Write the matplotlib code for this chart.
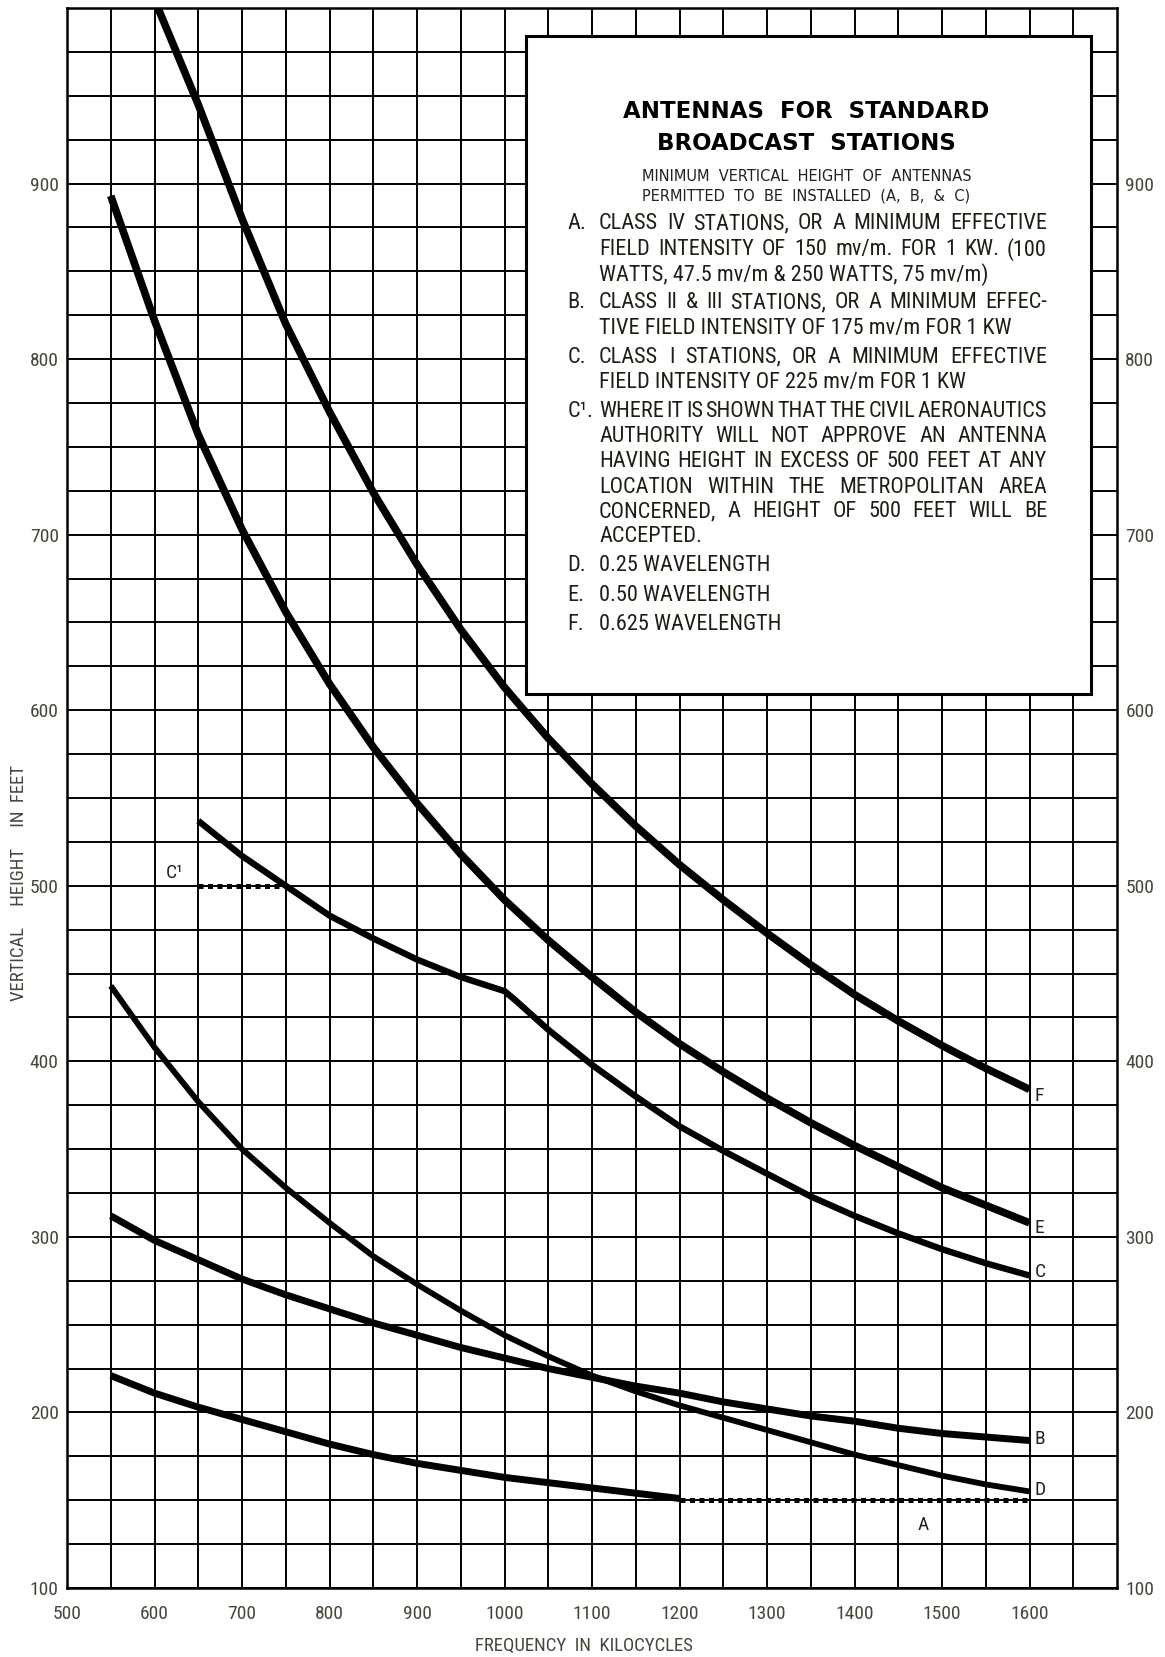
import numpy as np
import matplotlib.pyplot as plt
from matplotlib.patches import Rectangle

# values (frequency in kc, height in feet)
freq_F = [604, 650, 700, 750, 800, 850, 900, 950, 1000, 1050, 1100, 1150, 1200, 1250,
          1300, 1350, 1400, 1450, 1500, 1550, 1600]
height_F = [1000, 945, 880, 820, 770, 724, 683, 646, 613, 584, 558, 534, 512, 492,
            473, 455, 438, 423, 409, 396, 384]

freq_E = [550, 600, 650, 700, 750, 800, 850, 900, 950, 1000, 1050, 1100, 1150, 1200,
          1250, 1300, 1350, 1400, 1450, 1500, 1550, 1600]
height_E = [893, 822, 757, 703, 656, 615, 579, 547, 518, 492, 469, 448, 428, 410,
            394, 379, 365, 352, 340, 328, 318, 308]

freq_C = [650, 700, 750, 800, 850, 900, 950, 1000, 1012, 1050, 1100, 1150, 1200, 1250,
          1300, 1350, 1400, 1450, 1500, 1550, 1600]
height_C = [537, 517, 500, 483, 470, 458, 448, 440, 435, 418, 398, 380, 363, 349,
            336, 323, 312, 302, 293, 285, 278]

freq_D = [550, 600, 650, 700, 750, 800, 850, 900, 950, 1000, 1050, 1100, 1150, 1200,
          1250, 1300, 1350, 1400, 1450, 1500, 1550, 1600]
height_D = [443, 408, 377, 350, 328, 308, 289, 273, 258, 244, 232, 221, 212, 204,
            197, 190, 183, 176, 170, 164, 159, 155]

freq_B = [550, 600, 650, 700, 750, 800, 850, 900, 950, 1000, 1050, 1100, 1150, 1200,
          1250, 1300, 1350, 1400, 1450, 1500, 1550, 1600]
height_B = [312, 298, 287, 276, 267, 259, 251, 244, 237, 231, 225, 220, 215, 211,
            206, 202, 198, 195, 191, 188, 186, 184]

freq_A = [550, 600, 650, 700, 750, 800, 850, 900, 950, 1000, 1050, 1100, 1150, 1200]
height_A = [221, 211, 203, 196, 189, 182, 176, 171, 167, 163, 160, 157, 154, 151]

# dotted limits
freq_A_lim = [1200, 1600]
height_A_lim = [150, 150]
freq_C1 = [650, 750]
height_C1 = [500, 500]

x_ticks = list(range(500, 1601, 100))
y_ticks = list(range(100, 901, 100))

narrow = ['Roboto Condensed', 'DejaVu Sans']
tick_col = '#46463a'

fig = plt.figure(figsize=(11.65, 16.57), dpi=100)
ax = fig.add_axes([67/1165, 1-1588/1657, 1050/1165, 1580/1657])
ax.set_xlim(500, 1700)
ax.set_ylim(100, 1000)

ax.set_xticks(x_ticks)
ax.set_xticks(range(550, 1700, 50), minor=True)
ax.set_yticks(y_ticks)
ax.set_yticks(range(125, 1000, 25), minor=True)
ax.grid(which='both', color='black', lw=1.4, zorder=1)
ax.tick_params(which='both', length=0)
ax.tick_params(axis='x', pad=12)
ax.tick_params(axis='y', pad=6, labelright=True)
for lab in ax.get_xticklabels() + ax.get_yticklabels():
    lab.set_family(narrow)
    lab.set_fontsize(14)
    lab.set_color(tick_col)
for s in ax.spines.values():
    s.set_linewidth(1.8)

ax.plot(freq_F, height_F, color='black', lw=5.5, solid_capstyle='butt', zorder=4)
ax.plot(freq_E, height_E, color='black', lw=5.5, solid_capstyle='butt', zorder=4)
ax.plot(freq_C, height_C, color='black', lw=4.6, solid_capstyle='butt', zorder=4)
ax.plot(freq_D, height_D, color='black', lw=4.2, solid_capstyle='butt', zorder=4)
ax.plot(freq_B, height_B, color='black', lw=5.0, solid_capstyle='butt', zorder=4)
ax.plot(freq_A, height_A, color='black', lw=5.0, solid_capstyle='butt', zorder=4)
ax.plot(freq_A_lim, height_A_lim, color='black', lw=3.6, ls=(0, (1, 0.9)), zorder=4)
ax.plot(freq_C1, height_C1, color='black', lw=3.6, ls=(0, (1, 0.9)), zorder=4)

lab_kw = dict(family=narrow, fontsize=14, color='#222222', va='center', zorder=5)
ax.text(1606, 380, 'F', **lab_kw)
ax.text(1606, 305, 'E', **lab_kw)
ax.text(1606, 280, 'C', **lab_kw)
ax.text(1606, 185, 'B', **lab_kw)
ax.text(1606, 156, 'D', **lab_kw)
ax.text(1478, 136, 'A', ha='center', **lab_kw)
ax.text(623, 507, 'C\u00b9', ha='center', **lab_kw)

# legend box
ax.add_patch(Rectangle((1024, 609), 646, 375, facecolor='white', edgecolor='black',
                       lw=2.2, zorder=5))
ax.text(1345, 941, 'ANTENNAS  FOR  STANDARD', ha='center', va='center',
        fontsize=16.5, fontweight='bold', family='DejaVu Sans', zorder=6)
ax.text(1345, 923, 'BROADCAST  STATIONS', ha='center', va='center',
        fontsize=16.5, fontweight='bold', family='DejaVu Sans', zorder=6)
ax.text(1345, 904, 'MINIMUM  VERTICAL  HEIGHT  OF  ANTENNAS', ha='center', va='center',
        fontsize=10.5, family='DejaVu Sans', color='#222222', zorder=6)
ax.text(1345, 893, 'PERMITTED  TO  BE  INSTALLED  (A,  B,  &  C)', ha='center', va='center',
        fontsize=10.5, family='DejaVu Sans', color='#222222', zorder=6)

item_kw = dict(family=narrow, fontsize=16, color='#1e1e14', va='center', zorder=6)
renderer = fig.canvas.get_renderer()
inv = ax.transData.inverted()
x_mark, x0, x1 = 1072, 1108, 1620


def put_line(text, y, justify):
    if not justify:
        ax.text(x0, y, text, **item_kw)
        return
    words = text.split()
    objs = [ax.text(x0, y, w, **item_kw) for w in words]
    widths = []
    for t in objs:
        bb = t.get_window_extent(renderer)
        widths.append(inv.transform((bb.x1, bb.y0))[0] - inv.transform((bb.x0, bb.y0))[0])
    gap = (x1 - x0 - sum(widths)) / (len(words) - 1)
    x = x0
    for t, w in zip(objs, widths):
        t.set_x(x)
        x += w + gap


items = [
    ('A.', [('CLASS IV STATIONS, OR A MINIMUM EFFECTIVE', True),
            ('FIELD INTENSITY OF 150 mv/m. FOR 1 KW. (100', True),
            ('WATTS, 47.5 mv/m & 250 WATTS, 75 mv/m)', False)]),
    ('B.', [('CLASS II & III STATIONS, OR A MINIMUM EFFEC-', True),
            ('TIVE FIELD INTENSITY OF 175 mv/m FOR 1 KW', False)]),
    ('C.', [('CLASS I STATIONS, OR A MINIMUM EFFECTIVE', True),
            ('FIELD INTENSITY OF 225 mv/m FOR 1 KW', False)]),
    ('C\u00b9.', [('WHERE IT IS SHOWN THAT THE CIVIL AERONAUTICS', True),
                  ('AUTHORITY WILL NOT APPROVE AN ANTENNA', True),
                  ('HAVING HEIGHT IN EXCESS OF 500 FEET AT ANY', True),
                  ('LOCATION WITHIN THE METROPOLITAN AREA', True),
                  ('CONCERNED, A HEIGHT OF 500 FEET WILL BE', True),
                  ('ACCEPTED.', False)]),
    ('D.', [('0.25 WAVELENGTH', False)]),
    ('E.', [('0.50 WAVELENGTH', False)]),
    ('F.', [('0.625 WAVELENGTH', False)]),
]
line_y = [877, 862.4, 848, 832, 817.3, 801, 786.6, 770, 756, 741.5, 727, 713, 699,
          682.4, 665.5, 648.7]
k = 0
for mark, lines in items:
    ax.text(x_mark, line_y[k], mark, **item_kw)
    for txt, just in lines:
        put_line(txt, line_y[k], just)
        k += 1

fig.text(584/1165, 1-1646/1657, 'FREQUENCY  IN  KILOCYCLES', ha='center', va='center',
         family=narrow, fontsize=13.5, color=tick_col)
fig.text(19/1165, 1-883/1657, 'VERTICAL     HEIGHT     IN  FEET', ha='center',
         va='center', rotation=90, family=narrow, fontsize=13.5, color=tick_col)

fig.savefig('out.png', dpi=100, facecolor='white')
